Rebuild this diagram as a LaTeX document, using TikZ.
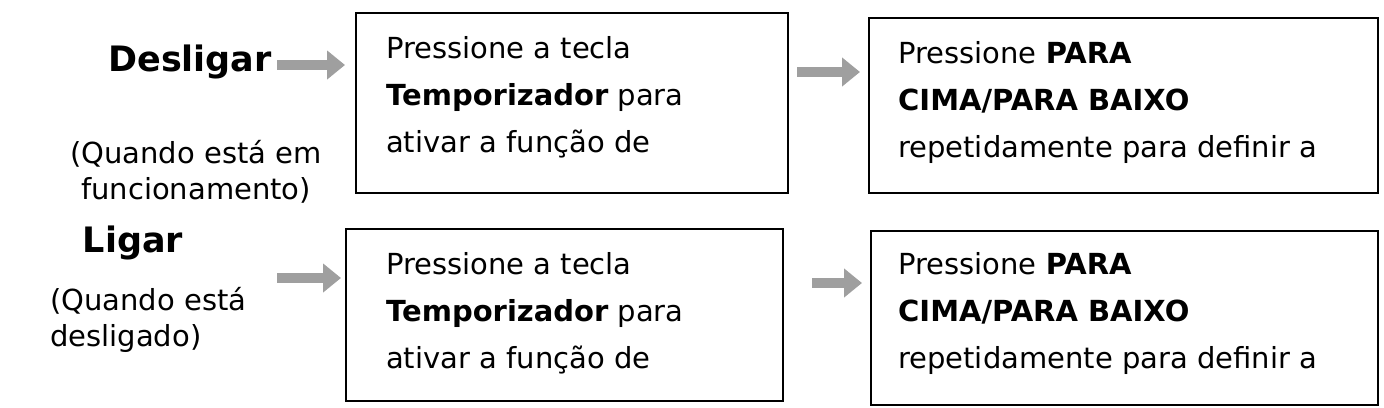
\documentclass[tikz,border=0pt]{standalone}
\usepackage{fontspec}
\setmainfont{DejaVu Sans}
\usetikzlibrary{arrows.meta,positioning}
\tikzset{
  stepbox/.style={draw, line width=2pt, anchor=north west, inner sep=0pt},
  boxtext/.style={anchor=north west, align=left, font=\fontsize{29}{47}\selectfont, inner sep=0pt},
  side/.style={font=\fontsize{29}{36}\selectfont, inner sep=0pt},
  big/.style={font=\bfseries\fontsize{35}{40}\selectfont, inner sep=0pt},
  grayarrow/.style={line width=10pt, gray!75, -{Triangle[length=18pt,width=28pt]}}
}
\begin{document}
\begin{tikzpicture}[x=1pt,y=-1pt]
            \useasboundingbox (0,0) rectangle (1384,407);
            \node[stepbox, minimum width=432pt, minimum height=180pt] (b1) at (355,12) {};
            \node[stepbox, minimum width=509pt, minimum height=175pt] (b2) at (868,17) {};
            \node[stepbox, minimum width=437pt, minimum height=172pt] (b3) at (345,228) {};
            \node[stepbox, minimum width=507pt, minimum height=174pt] (b4) at (870,230) {};

            \node[boxtext] (t1) at (386,36) {Pressione a tecla\\\textbf{Temporizador} para\\ativar a função de};
            \node[boxtext] (t2) at (898,41) {Pressione \textbf{PARA}\\\textbf{CIMA/PARA BAIXO}\\repetidamente para definir a};
            \node[boxtext] (t3) at (386,252) {Pressione a tecla\\\textbf{Temporizador} para\\ativar a função de};
            \node[boxtext] (t4) at (898,252) {Pressione \textbf{PARA}\\\textbf{CIMA/PARA BAIXO}\\repetidamente para definir a};

            % left labels
            \node[big] (off) at (190,62) {Desligar};
            \node[side, align=center] (offnote) at (196,172) {(Quando está em\\funcionamento)};
            \node[big] (on) at (133,243) {Ligar};
            \node[side, align=left, anchor=west] (onnote) at (50,320) {(Quando está\\desligado)};

            % arrows
            \coordinate (a1) at (277,65);
            \coordinate (a3) at (277,278);
            \draw[grayarrow] (a1) -- ([xshift=-10pt]b1.west |- a1);
            \draw[grayarrow] ([xshift=8pt]b1.east |- 0,72) -- ([xshift=-8pt]b2.west |- 0,72);
            \draw[grayarrow] (a3) -- ([xshift=-4pt]b3.west |- a3);
            \draw[grayarrow] ([xshift=28pt]b3.east |- 0,283) -- ([xshift=-8pt]b4.west |- 0,283);
\end{tikzpicture}
\end{document}
